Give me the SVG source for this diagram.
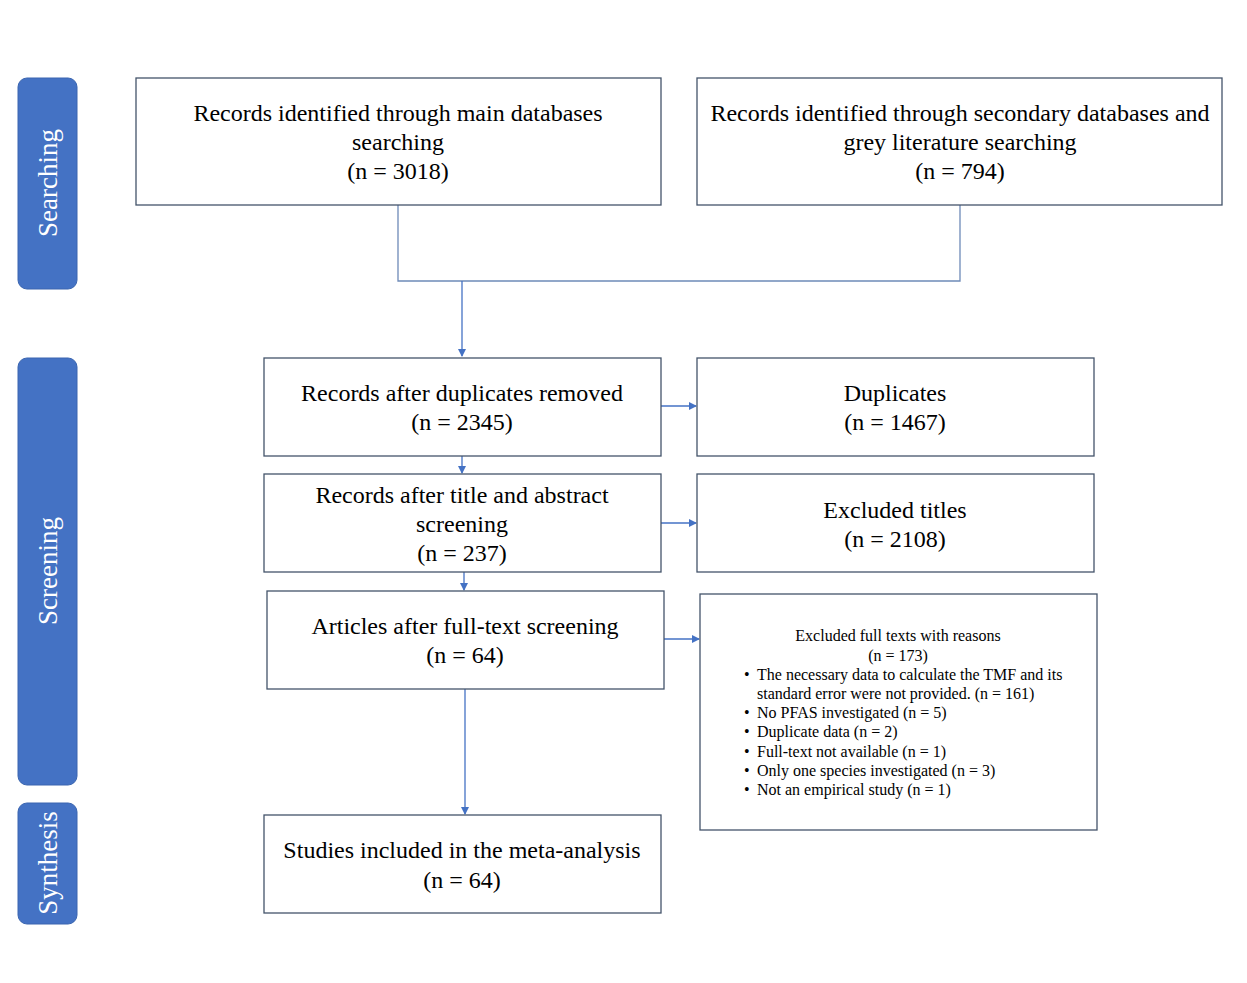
<svg xmlns="http://www.w3.org/2000/svg" width="1247" height="983" viewBox="0 0 1247 983">
<style>
.box{fill:#fff;stroke:#44546a;stroke-width:1.3}
.side{fill:#4472c4;stroke:#3a65b0;stroke-width:1}
.t{font-family:"Liberation Serif","Times New Roman",serif;font-size:24px;fill:#000;text-anchor:middle}
.s{font-family:"Liberation Serif","Times New Roman",serif;font-size:16px;fill:#000}
.st{font-family:"Liberation Serif","Times New Roman",serif;font-size:27px;fill:#fff;text-anchor:middle}
.c{fill:none;stroke:#4472c4;stroke-width:1.3}
.l{fill:none;stroke:#6e8ab8;stroke-width:1.3}
</style>
<defs>
<marker id="ah" markerWidth="8" markerHeight="8" refX="7" refY="4" orient="auto" markerUnits="userSpaceOnUse">
<path d="M0,0 L8,4 L0,8 Z" fill="#4472c4"/>
</marker>
</defs>
<rect width="1247" height="983" fill="#fff"/>
<g id="side-searching"><rect class="side" x="18" y="78" width="59" height="211" rx="9"/><text class="st" transform="translate(57,183) rotate(-90)">Searching</text></g>
<g id="side-screening"><rect class="side" x="18" y="358" width="59" height="427" rx="9"/><text class="st" transform="translate(57,571) rotate(-90)">Screening</text></g>
<g id="side-synthesis"><rect class="side" x="18" y="803" width="59" height="121" rx="9"/><text class="st" transform="translate(57,863) rotate(-90)">Synthesis</text></g>

<g id="connectors">
<path class="l" d="M398,205 V281 H960 V205"/>
<path class="c" d="M462,281 V356" marker-end="url(#ah)"/>
<path class="c" d="M462,456 V473" marker-end="url(#ah)"/>
<path class="c" d="M464,572 V590" marker-end="url(#ah)"/>
<path class="c" d="M465,689 V814" marker-end="url(#ah)"/>
<path class="c" d="M661,406 H696" marker-end="url(#ah)"/>
<path class="c" d="M661,523 H696" marker-end="url(#ah)"/>
<path class="c" d="M664,639 H699" marker-end="url(#ah)"/>
</g>

<g id="main-db"><rect class="box" x="136" y="78" width="525" height="127"/>
<text class="t" x="398" y="121">Records identified through main databases</text>
<text class="t" x="398" y="150">searching</text>
<text class="t" x="398" y="179">(n = 3018)</text></g>

<g id="secondary-db"><rect class="box" x="697" y="78" width="525" height="127"/>
<text class="t" x="960" y="121">Records identified through secondary databases and</text>
<text class="t" x="960" y="150">grey literature searching</text>
<text class="t" x="960" y="179">(n = 794)</text></g>

<g id="after-duplicates"><rect class="box" x="264" y="358" width="397" height="98"/>
<text class="t" x="462" y="401">Records after duplicates removed</text>
<text class="t" x="462" y="430">(n = 2345)</text></g>

<g id="duplicates"><rect class="box" x="697" y="358" width="397" height="98"/>
<text class="t" x="895" y="401">Duplicates</text>
<text class="t" x="895" y="430">(n = 1467)</text></g>

<g id="title-abstract"><rect class="box" x="264" y="474" width="397" height="98"/>
<text class="t" x="462" y="503">Records after title and abstract</text>
<text class="t" x="462" y="532">screening</text>
<text class="t" x="462" y="561">(n = 237)</text></g>

<g id="excluded-titles"><rect class="box" x="697" y="474" width="397" height="98"/>
<text class="t" x="895" y="518">Excluded titles</text>
<text class="t" x="895" y="547">(n = 2108)</text></g>

<g id="full-text"><rect class="box" x="267" y="591" width="397" height="98"/>
<text class="t" x="465" y="634">Articles after full-text screening</text>
<text class="t" x="465" y="663">(n = 64)</text></g>

<g id="excluded-full"><rect class="box" x="700" y="594" width="397" height="236"/>
<text class="s" x="898" y="641" text-anchor="middle">Excluded full texts with reasons</text>
<text class="s" x="898" y="661" text-anchor="middle">(n = 173)</text>
<text class="s" x="744" y="680">•</text><text class="s" x="757" y="680">The necessary data to calculate the TMF and its</text>
<text class="s" x="757" y="699">standard error were not provided. (n = 161)</text>
<text class="s" x="744" y="718">•</text><text class="s" x="757" y="718">No PFAS investigated (n = 5)</text>
<text class="s" x="744" y="737">•</text><text class="s" x="757" y="737">Duplicate data (n = 2)</text>
<text class="s" x="744" y="757">•</text><text class="s" x="757" y="757">Full-text not available (n = 1)</text>
<text class="s" x="744" y="776">•</text><text class="s" x="757" y="776">Only one species investigated (n = 3)</text>
<text class="s" x="744" y="795">•</text><text class="s" x="757" y="795">Not an empirical study (n = 1)</text></g>

<g id="included"><rect class="box" x="264" y="815" width="397" height="98"/>
<text class="t" x="462" y="858">Studies included in the meta-analysis</text>
<text class="t" x="462" y="888">(n = 64)</text></g>
</svg>
